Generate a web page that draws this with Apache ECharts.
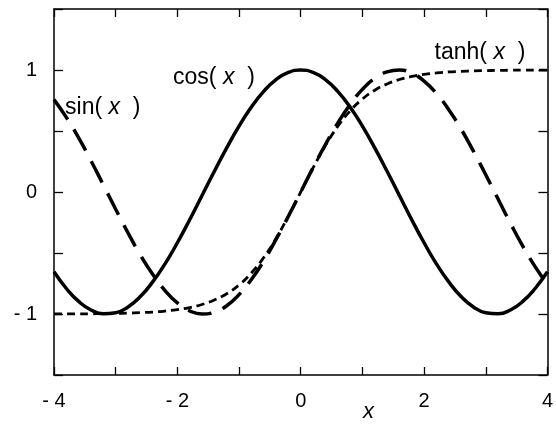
<!DOCTYPE html>
<html>
<head>
<meta charset="utf-8">
<style>html,body{margin:0;padding:0;background:#fff;}#c{width:556px;height:426px;}</style>
<script src="https://cdn.jsdelivr.net/npm/echarts@6/dist/echarts.min.js"></script>
</head>
<body>
<div id="c"></div>
<script>
var xs = [-4,-3.8,-3.6,-3.4,-3.2,-3,-2.8,-2.6,-2.4,-2.2,-2,-1.8,-1.6,-1.4,-1.2,-1,-0.8,-0.6,-0.4,-0.2,0,0.2,0.4,0.6,0.8,1,1.2,1.4,1.6,1.8,2,2.2,2.4,2.6,2.8,3,3.2,3.4,3.6,3.8,4];
var cosVals = [-0.654,-0.791,-0.897,-0.967,-0.998,-0.990,-0.942,-0.857,-0.737,-0.589,-0.416,-0.227,-0.029,0.170,0.362,0.540,0.697,0.825,0.921,0.980,1,0.980,0.921,0.825,0.697,0.540,0.362,0.170,-0.029,-0.227,-0.416,-0.589,-0.737,-0.857,-0.942,-0.990,-0.998,-0.967,-0.897,-0.791,-0.654];
var sinVals = [0.757,0.612,0.443,0.256,0.058,-0.141,-0.335,-0.516,-0.675,-0.808,-0.909,-0.974,-1.000,-0.985,-0.932,-0.841,-0.717,-0.565,-0.389,-0.199,0,0.199,0.389,0.565,0.717,0.841,0.932,0.985,1.000,0.974,0.909,0.808,0.675,0.516,0.335,0.141,-0.058,-0.256,-0.443,-0.612,-0.757];
var tanhVals = [-0.999,-0.999,-0.999,-0.998,-0.997,-0.995,-0.993,-0.989,-0.984,-0.976,-0.964,-0.947,-0.922,-0.885,-0.834,-0.762,-0.664,-0.537,-0.380,-0.197,0,0.197,0.380,0.537,0.664,0.762,0.834,0.885,0.922,0.947,0.964,0.976,0.984,0.989,0.993,0.995,0.997,0.998,0.999,0.999,0.999];
var xTickLabels = [-4,-2,0,2,4];
var yTickLabels = [-1,0,1];

function pairs(v){ return xs.map(function(x,i){ return [x, v[i]]; }); }
function fmt(v){ return v < 0 ? '- ' + (-v) : String(v); }

var FONT = '"Liberation Sans", Arial, Helvetica, sans-serif';
var lineStyleAxis = {color:'#000', width:1.5};

var chart = echarts.init(document.getElementById('c'), null, {renderer:'canvas'});
var xAxisBase = {
  type:'value', min:-4, max:4, interval:1,
  axisLine:{show:true, onZero:false, lineStyle:lineStyleAxis},
  axisTick:{show:true, inside:true, length:8, lineStyle:{color:'#000', width:1.3}},
  splitLine:{show:false}
};
var yAxisBase = {
  type:'value', min:-1.5, max:1.5, interval:0.5,
  axisLine:{show:true, onZero:false, lineStyle:lineStyleAxis},
  axisTick:{show:true, inside:true, length:9, lineStyle:{color:'#000', width:1.3}},
  splitLine:{show:false}
};
var option = {
  animation:false,
  backgroundColor:'#fff',
  grid:{left:54, right:8, top:9, bottom:51},
  xAxis:[
    Object.assign({}, xAxisBase, {position:'bottom',
      axisLabel:{show:true, margin:16, color:'#000', fontSize:20, fontFamily:FONT,
        formatter:function(v){ return xTickLabels.indexOf(v) >= 0 ? fmt(v) : ''; }}}),
    Object.assign({}, xAxisBase, {position:'top', axisLabel:{show:false}})
  ],
  yAxis:[
    Object.assign({}, yAxisBase, {position:'left',
      axisLabel:{show:true, margin:17, color:'#000', fontSize:20, fontFamily:FONT,
        formatter:function(v){ return yTickLabels.indexOf(v) >= 0 ? fmt(v) : ''; }}}),
    Object.assign({}, yAxisBase, {position:'right', axisLabel:{show:false}})
  ],
  series:[
    {type:'line', name:'cos', data:pairs(cosVals), smooth:true, showSymbol:false,
      lineStyle:{color:'#000', width:3.5, type:'solid'}},
    {type:'line', name:'sin', data:pairs(sinVals), smooth:true, showSymbol:false,
      lineStyle:{color:'#000', width:3.5, type:[24,12]}},
    {type:'line', name:'tanh', data:pairs(tanhVals), smooth:true, showSymbol:false,
      lineStyle:{color:'#000', width:2.8, type:[8,5]}}
  ]
};
chart.setOption(option);

var labels = [
  {name:'sin', x:-3.82, y:0.689},
  {name:'cos', x:-2.07, y:0.934},
  {name:'tanh', x:2.17, y:1.139}
];
var graphics = labels.map(function(l){
  var p = chart.convertToPixel({gridIndex:0}, [l.x, l.y]);
  return {type:'text', x:p[0], y:p[1], z:100,
    style:{text:'{n|' + l.name + '( }{i|x}{n|  )}', verticalAlign:'middle', rich:{
      n:{fontSize:23, fontFamily:FONT, fill:'#000'},
      i:{fontSize:23, fontFamily:FONT, fontStyle:'italic', fill:'#000'}
    }}};
});
var tp = chart.convertToPixel({gridIndex:0}, [1.1, -1.5]);
graphics.push({type:'text', x:tp[0], y:tp[1]+37, z:100,
  style:{text:'x', fontSize:22, fontFamily:FONT, fontStyle:'italic', fill:'#000', align:'center', verticalAlign:'middle'}});
chart.setOption({graphic:graphics});
</script>
</body>
</html>
